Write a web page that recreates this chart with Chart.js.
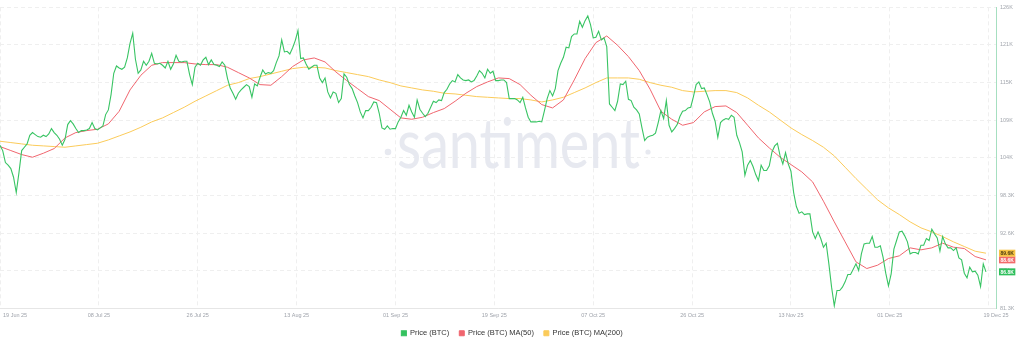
<!DOCTYPE html>
<html>
<head>
<meta charset="utf-8">
<script src="https://cdn.jsdelivr.net/npm/chart.js@4.4.1/dist/chart.umd.min.js"></script>
<style>
html, body { margin: 0; padding: 0; background: #fff; }
#wrap { width: 1024px; height: 346px; }
</style>
</head>
<body>
<div id="wrap"><canvas id="chart" width="1024" height="346"></canvas></div>
<script>
// price sampled every 12 hours, starting 19 Jun 25 (values in thousands USD)
const stepHours = 12;
const priceBTC = [
  105.8, 105.0, 103.2, 102.8, 102.3, 101.0, 98.7, 101.7, 105.0, 105.5,
  106.0, 107.3, 107.7, 107.4, 107.1, 107.0, 107.3, 107.1, 107.5, 108.3,
  107.7, 107.3, 106.7, 105.8, 106.7, 108.9, 109.5, 109.0, 108.3, 107.7,
  108.0, 108.0, 108.1, 108.3, 109.2, 108.3, 108.1, 108.4, 108.7, 110.4,
  111.1, 113.4, 116.6, 117.7, 117.4, 117.2, 117.5, 118.9, 121.1, 122.6,
  118.7, 116.6, 117.1, 118.4, 117.8, 118.4, 119.6, 118.1, 118.0, 118.1,
  117.8, 117.4, 118.4, 117.2, 118.0, 119.3, 118.4, 118.3, 118.4, 118.4,
  116.4, 114.9, 117.5, 118.1,
  117.8, 118.6, 119.0, 117.9, 118.6, 117.9, 117.8, 117.6, 118.3, 117.8,
  115.8, 114.4, 113.6, 112.7, 113.6, 114.1, 114.5, 114.9, 114.6, 113.0,
  115.0, 114.7, 116.0, 117.1, 116.5, 116.7, 116.6, 117.0, 118.2, 119.2,
  121.6, 119.8, 119.9, 119.5, 120.4, 121.5, 123.0, 118.8, 118.9, 118.0,
  117.2, 117.5, 117.8, 117.8, 115.9, 115.2, 115.9, 113.8, 112.9, 113.8,
  113.6, 112.2, 112.8, 116.5, 116.0, 114.9, 114.3, 113.2, 112.2, 110.8,
  109.9, 111.0, 111.0, 111.5, 112.3, 112.2, 110.6, 108.4, 108.2, 108.7,
  108.2, 108.3, 108.3, 109.3,
  110.0, 111.0, 110.3, 111.8, 110.8, 110.0, 112.6, 111.2, 110.6, 110.1,
  110.6, 111.5, 112.4, 112.2, 112.6, 112.5, 113.7, 114.2, 115.0, 115.5,
  115.3, 116.4, 115.9, 115.6, 115.5, 115.6, 115.3, 115.5, 116.2, 117.0,
  116.6, 115.9, 117.2, 116.6, 116.9, 115.5, 115.5, 115.6, 115.6, 115.2,
  112.8, 112.8, 112.8, 112.6, 112.2, 113.0, 111.4, 110.0, 109.3, 109.3,
  109.3, 109.4, 109.3, 111.0, 112.8, 114.0, 113.2, 114.3, 117.0, 118.1,
  119.0, 120.5, 120.4, 122.1, 122.5, 122.5, 124.4, 123.5, 124.5, 125.2,
  123.9, 121.9, 122.0, 122.9,
  121.6, 121.9, 120.6, 112.0, 111.5, 111.0, 112.4, 115.0, 114.9, 115.4,
  112.7, 112.5, 111.5, 111.1, 110.5, 108.4, 106.5, 107.0, 107.2, 107.3,
  107.6, 109.2, 111.0, 109.8, 112.5, 108.8, 107.8, 108.3, 108.9, 110.1,
  110.9, 111.0, 111.4, 111.5, 113.1, 114.9, 115.3, 114.3, 114.4, 113.4,
  112.3, 110.6, 109.4, 107.0, 109.2, 109.6, 109.8, 109.7, 110.3, 110.0,
  107.3, 106.2, 104.8, 101.3, 102.8, 103.5, 102.6, 101.4, 100.5, 102.8,
  102.0, 102.0, 102.7, 104.8, 105.7, 106.1, 104.2, 103.0, 104.7, 103.0,
  101.9, 98.7, 96.6, 95.6,
  95.8, 95.4, 95.5, 95.5, 92.8, 91.8, 92.8, 91.8, 90.5, 91.1,
  88.0, 84.5, 81.7, 84.0, 84.0, 84.5, 85.3, 86.4, 86.4, 87.2,
  88.0, 87.0, 89.5, 91.0, 91.1, 91.1, 92.1, 90.5, 90.5, 90.7,
  89.0, 86.6, 84.7, 86.5, 90.2, 91.5, 92.8, 92.9, 92.2, 91.3,
  89.5, 89.7, 89.7, 89.5, 90.8, 90.8, 91.8, 91.5, 93.2, 92.5,
  91.9, 89.9, 92.1, 91.0, 90.4, 90.4, 90.0, 90.4, 88.9, 88.6,
  86.6, 85.9, 87.5, 86.8, 86.9, 86.3, 84.6, 88.0, 86.8
];

// moving averages read every 2 days (every 4th price step)
const maEvery = 4;
const priceMA50 = [
  105.6, 105.0, 104.4, 104.0, 104.6, 105.3, 106.9, 107.7, 108.0, 108.2,
  109.0, 110.9, 114.1, 116.3, 117.8, 118.2, 118.2, 118.2, 118.0, 117.9,
  117.9, 117.5, 116.7, 115.9, 114.9, 114.8, 116.1, 117.6, 118.6, 118.9,
  118.3, 116.8, 115.5, 114.3, 113.1, 112.5, 111.2, 109.9, 109.7, 110.0,
  110.7, 111.3, 112.4, 113.6, 114.6, 115.3, 115.9, 115.8, 114.9, 113.3,
  111.9, 111.4, 112.6, 115.6, 118.8, 121.2, 122.2, 120.8, 119.1, 117.0,
  114.2, 110.9, 109.7, 108.8, 109.2, 110.8, 111.6, 111.7, 110.7, 108.8,
  106.9, 105.4, 104.0, 102.9, 101.8, 100.3, 97.4, 94.3, 91.3, 88.3,
  87.3, 87.8, 88.8, 89.2, 90.4, 90.1, 90.4, 91.1, 90.5, 90.3,
  89.1, 88.6
];
const priceMA200 = [
  106.4, 106.2, 106.0, 105.8, 105.7, 105.6, 105.5, 105.7, 105.9, 106.1,
  106.6, 107.2, 107.8, 108.5, 109.3, 109.9, 110.7, 111.5, 112.4, 113.2,
  114.0, 114.8, 115.2, 115.8, 116.1, 116.5, 116.9, 117.3, 117.5, 117.5,
  117.4, 117.0, 116.7, 116.4, 116.1, 115.6, 115.2, 114.7, 114.4, 114.1,
  113.9, 113.6, 113.5, 113.3, 113.1, 113.0, 112.9, 112.8, 112.8, 112.6,
  112.3, 112.6, 113.0, 113.7, 114.4, 115.2, 115.9, 115.9, 115.9, 115.7,
  115.2, 114.8, 114.5, 114.0, 113.8, 113.9, 114.0, 114.0, 113.7, 112.9,
  111.8, 110.8, 109.6, 108.4, 107.4, 106.5, 105.5, 104.2, 102.5, 100.8,
  99.2, 97.6, 96.4, 95.4, 94.3, 93.4, 92.8, 92.1, 91.3, 90.6,
  89.9, 89.6
];

const xTickLabels = ['19 Jun 25', '08 Jul 25', '26 Jul 25', '13 Aug 25', '01 Sep 25', '19 Sep 25',
  '07 Oct 25', '26 Oct 25', '13 Nov 25', '01 Dec 25', '19 Dec 25'];
const xTickEvery = 36.5; // price steps between date labels
const xEnd = 367.7;
const yTickValues = [81.3, 86.95, 92.6, 98.25, 103.9, 109.55, 115.2, 120.85, 126.5];
const yTickLabels = ['81.3K', '87K', '92.6K', '98.3K', '104K', '109K', '115K', '121K', '126K'];

const labelFont = '"Liberation Sans", Arial, sans-serif';

const watermark = {
    id: 'watermark',
    beforeDatasetsDraw(chart) {
        const ctx = chart.ctx;
        ctx.save();
        ctx.fillStyle = '#e7e9f0';
        ctx.font = '400 70px Lato';
        const w = ctx.measureText('santiment').width;
        ctx.translate(397, 168);
        ctx.scale(243 / w, 1);
        ctx.textBaseline = 'alphabetic';
        ctx.fillText('santiment', 0, 0);
        ctx.restore();
        ctx.save();
        ctx.fillStyle = '#e7e9f0';
        ctx.beginPath();
        ctx.arc(388, 152, 3.3, 0, Math.PI * 2);
        ctx.arc(648, 152, 2.6, 0, Math.PI * 2);
        ctx.fill();
        ctx.restore();
    }
};

const dateLabels = {
    id: 'dateLabels',
    afterDraw(chart) {
        const ctx = chart.ctx;
        const xs = chart.scales.x;
        const area = chart.chartArea;
        ctx.save();
        ctx.font = '5.5px ' + labelFont;
        ctx.fillStyle = '#9fa3ab';
        ctx.textBaseline = 'middle';
        xTickLabels.forEach((t, i) => {
            let px = xs.getPixelForValue(i * xTickEvery);
            ctx.textAlign = 'center';
            if (i === 0) {
                ctx.textAlign = 'left';
                px += 3;
            }
            if (i === xTickLabels.length - 1) {
                px = area.right;
            }
            ctx.fillText(t, px, area.bottom + 7);
        });
        ctx.restore();
    }
};

const lastBadges = {
    id: 'lastBadges',
    afterDraw(chart) {
        const ctx = chart.ctx;
        const ys = chart.scales.y;
        const area = chart.chartArea;
        ctx.save();
        ctx.font = 'bold 5px ' + labelFont;
        ctx.textBaseline = 'middle';
        chart.data.datasets.forEach(ds => {
            const last = ds.data[ds.data.length - 1].y;
            const py = ys.getPixelForValue(last);
            const text = last.toFixed(1) + 'K';
            const w = ctx.measureText(text).width + 3;
            ctx.fillStyle = ds.badgeColor;
            ctx.fillRect(area.right + 3, py - 3.5, w, 7);
            ctx.fillStyle = ds.badgeText;
            ctx.fillText(text, area.right + 4.5, py + 0.3);
        });
        ctx.restore();
    }
};

const data = {
    datasets: [
        {
            label: 'Price (BTC)',
            data: priceBTC.map((v, i) => ({x: i, y: v})),
            borderColor: '#38c463',
            backgroundColor: '#33c15e',
            borderWidth: 1.1,
            badgeColor: '#2fbf5c',
            badgeText: '#ffffff'
        },
        {
            label: 'Price (BTC) MA(50)',
            data: priceMA50.map((v, j) => ({x: j * maEvery, y: v})),
            borderColor: '#f0666f',
            backgroundColor: '#f0666f',
            borderWidth: 1,
            badgeColor: '#f26b6b',
            badgeText: '#ffffff'
        },
        {
            label: 'Price (BTC) MA(200)',
            data: priceMA200.map((v, j) => ({x: j * maEvery, y: v})),
            borderColor: '#fbcb5a',
            backgroundColor: '#fbcb5a',
            borderWidth: 1,
            badgeColor: '#f6c344',
            badgeText: '#4a3a10'
        }
    ]
};

const config = {
    type: 'line',
    data,
    plugins: [watermark, dateLabels, lastBadges],
    options: {
        responsive: false,
        animation: false,
        events: [],
        layout: { padding: { bottom: -1 } },
        elements: {
            point: { radius: 0 },
            line: { tension: 0 }
        },
        scales: {
            x: {
                type: 'linear',
                min: 0,
                max: xEnd,
                afterBuildTicks: scale => {
                    scale.ticks = xTickLabels.map((t, i) => ({value: i * xTickEvery}));
                },
                afterFit: scale => { scale.height = 11; },
                ticks: { display: false },
                grid: { color: '#efefef', drawTicks: false },
                border: { display: true, color: '#e6e6e6', dash: [4, 3] }
            },
            y: {
                type: 'linear',
                position: 'right',
                min: yTickValues[0],
                max: yTickValues[yTickValues.length - 1],
                afterBuildTicks: scale => {
                    scale.ticks = yTickValues.map(v => ({value: v}));
                },
                afterFit: scale => { scale.width = 28; },
                ticks: {
                    autoSkip: false,
                    padding: 4,
                    color: '#a3a7ae',
                    font: { size: 5.5, family: labelFont },
                    callback: (v, i) => yTickLabels[i]
                },
                grid: { color: '#efefef', drawTicks: false },
                border: { display: true, color: '#a6dfc0', dash: [4, 3] }
            }
        },
        plugins: {
            tooltip: { enabled: false },
            legend: {
                position: 'bottom',
                labels: {
                    boxWidth: 5,
                    boxHeight: 5,
                    padding: 10,
                    color: '#333333',
                    font: { size: 7.5, family: labelFont }
                }
            }
        }
    }
};

new Chart(document.getElementById('chart'), config);
</script>
</body>
</html>
